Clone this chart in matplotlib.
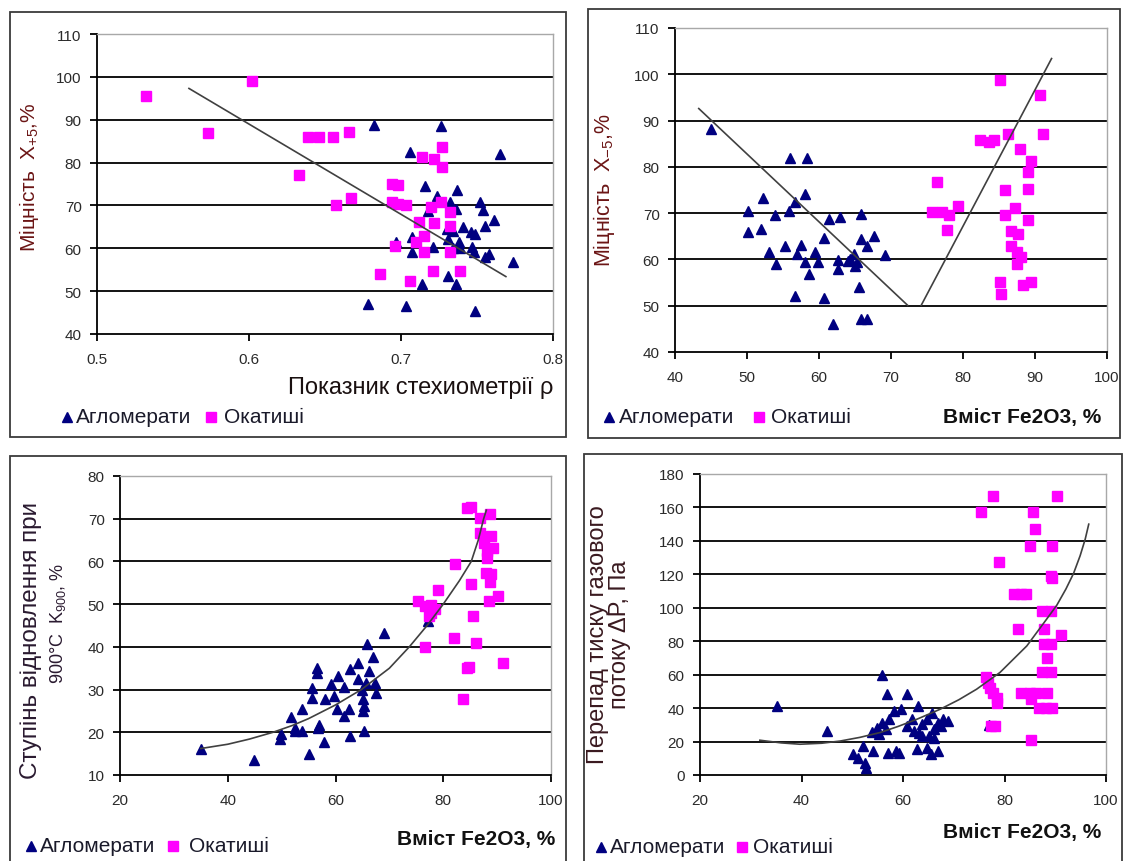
import matplotlib
matplotlib.use('Agg')
import matplotlib.pyplot as plt
from matplotlib.lines import Line2D
from matplotlib.patches import Rectangle

plt.rcParams['font.family'] = ['Liberation Sans', 'DejaVu Sans']
plt.rcParams['mathtext.fontset'] = 'custom'
plt.rcParams['mathtext.rm'] = 'Liberation Sans'
plt.rcParams['mathtext.it'] = 'Liberation Sans:italic'

NAVY = '#000080'
PINK = '#ff00ff'

###### panel 1: strength vs stoichiometry index
p1_agl_x = [0.682, 0.726, 0.706, 0.765, 0.716, 0.737, 0.724, 0.732, 0.736, 0.718, 0.752, 0.754, 0.761,
            0.755, 0.741, 0.730, 0.734, 0.746, 0.749, 0.731, 0.738, 0.739, 0.734, 0.721, 0.707, 0.707,
            0.697, 0.747, 0.748, 0.755, 0.758, 0.774, 0.731, 0.714, 0.736, 0.678, 0.703, 0.749]
p1_agl_y = [88.8, 88.6, 82.4, 82.0, 74.6, 73.7, 72.3, 70.7, 69.2, 68.8, 70.7, 69.0, 66.7,
            65.3, 64.9, 64.5, 64.1, 63.7, 63.3, 62.2, 61.4, 60.0, 60.0, 60.2, 62.6, 59.1,
            61.4, 60.2, 59.1, 57.9, 58.7, 56.7, 53.6, 51.7, 51.7, 47.0, 46.6, 45.4]
p1_oka_x = [0.532, 0.602, 0.573, 0.639, 0.646, 0.655, 0.666, 0.633, 0.657, 0.667, 0.694, 0.698,
            0.694, 0.698, 0.703, 0.696, 0.686, 0.706, 0.714, 0.722, 0.727, 0.727, 0.726, 0.712,
            0.722, 0.732, 0.732, 0.715, 0.710, 0.715, 0.732, 0.721, 0.739, 0.720]
p1_oka_y = [95.6, 99.1, 87.0, 86.0, 85.9, 86.0, 87.2, 77.0, 70.0, 71.7, 75.0, 74.8,
            70.7, 70.3, 70.0, 60.6, 54.0, 52.4, 81.2, 80.8, 83.6, 78.9, 70.7, 66.2,
            65.9, 68.4, 65.3, 62.9, 61.4, 59.1, 59.1, 54.8, 54.8, 69.6]
p1_trend_x = [0.5605, 0.769]
p1_trend_y = [97.3, 53.4]

###### panel 2: strength vs Fe2O3
p2_agl_x = [45.0, 56.0, 58.3, 52.2, 58.1, 56.6, 55.9, 50.1, 53.9, 51.9, 50.1, 61.4, 62.9, 65.8,
            60.7, 57.5, 55.3, 53.0, 54.0, 56.9, 59.4, 58.1, 59.8, 58.6, 62.7, 62.7, 64.3, 64.8,
            65.3, 65.8, 66.7, 67.7, 69.1, 65.5, 56.7, 60.7, 62.0, 65.9, 66.7, 64.0, 65.0]
p2_agl_y = [88.1, 81.9, 81.9, 73.3, 74.2, 72.3, 70.5, 70.5, 69.5, 66.6, 65.9, 68.8, 69.2, 69.9,
            64.6, 63.2, 63.0, 61.6, 59.1, 61.2, 61.5, 59.4, 59.4, 56.9, 57.9, 59.8, 60.2, 61.2,
            59.4, 64.5, 63.0, 65.1, 60.9, 54.0, 52.0, 51.7, 46.1, 47.1, 47.1, 59.6, 58.6]
p2_oka_x = [85.1, 90.7, 91.1, 86.3, 82.4, 83.6, 84.3, 87.9, 89.4, 89.0, 89.0, 85.8, 76.4, 79.3,
            75.7, 77.1, 78.1, 77.8, 87.2, 85.8, 89.0, 86.7, 87.7, 86.7, 87.5, 88.0, 87.5, 85.1,
            85.3, 88.4, 89.4]
p2_oka_y = [98.7, 95.5, 87.2, 87.2, 85.7, 85.4, 85.7, 83.8, 81.2, 78.9, 75.3, 75.1, 76.7, 71.5,
            70.2, 70.2, 69.5, 66.3, 71.1, 69.5, 68.6, 66.1, 65.4, 63.0, 61.7, 60.5, 59.1, 55.1,
            52.6, 54.4, 55.1]
p2_trend1_x = [43.3, 72.3]
p2_trend1_y = [92.6, 50.1]
p2_trend2_x = [74.2, 92.3]
p2_trend2_y = [50.1, 103.4]

###### panel 3: reduction degree vs Fe2O3
p3_agl_x = [35.0, 44.8, 55.1, 57.8, 49.7, 49.9, 52.4, 51.7, 53.8, 53.8, 52.5, 57.0, 56.7, 55.6,
            55.6, 56.5, 56.6, 58.1, 59.2, 59.8, 60.5, 61.5, 60.2, 61.5, 62.5, 62.7, 64.2, 64.2,
            64.9, 65.9, 66.9, 66.3, 65.6, 67.3, 67.6, 65.1, 65.2, 65.1, 65.2, 62.7, 69.0, 77.1]
p3_agl_y = [16.2, 13.5, 15.0, 17.7, 18.5, 19.7, 21.1, 23.6, 25.4, 20.4, 20.2, 21.8, 21.1, 28.1,
            30.4, 33.9, 35.1, 27.9, 31.2, 28.6, 33.2, 30.7, 25.4, 23.8, 25.4, 34.7, 36.3, 32.4,
            30.0, 40.6, 37.7, 34.3, 31.6, 31.6, 29.3, 27.7, 26.1, 25.0, 20.3, 19.1, 43.3, 46.0]
p3_oka_x = [85.2, 84.5, 86.8, 88.7, 86.8, 88.9, 87.5, 89.2, 88.2, 88.2, 82.1, 85.2, 87.9, 88.9,
            88.7, 90.2, 88.5, 79.1, 75.4, 76.7, 77.7, 77.7, 78.4, 77.4, 85.5, 76.7, 82.0, 86.0,
            84.5, 84.8, 91.1, 83.6]
p3_oka_y = [72.8, 72.6, 70.2, 71.0, 66.7, 65.9, 64.4, 63.2, 62.4, 60.9, 59.3, 54.6, 57.4, 57.0,
            55.2, 51.9, 50.7, 53.3, 50.7, 49.6, 49.9, 48.0, 48.8, 47.2, 47.2, 40.0, 42.0, 41.0,
            35.1, 35.3, 36.3, 27.9]
p3_trend_x = [35, 40, 44, 48.4, 52, 55, 60, 64.8, 70, 73.7, 77, 80, 83, 85.2, 86.5, 87.5, 88]
p3_trend_y = [16.2, 17.2, 18.4, 20.0, 21.6, 23.2, 26.4, 30.0, 35.0, 40.0, 45.0, 50.0, 55.5, 60.0,
              65.0, 70.0, 72.0]

###### panel 4: gas pressure drop vs Fe2O3
p4_agl_x = [35.2, 45.1, 55.9, 56.9, 60.8, 62.9, 58.3, 59.7, 57.3, 55.9, 54.9, 53.8, 55.2, 56.6,
            50.1, 51.1, 52.1, 54.1, 52.8, 52.5, 57.1, 58.6, 59.3, 62.7, 64.8, 65.5, 66.8, 60.7,
            61.7, 62.1, 63.1, 63.8, 64.8, 65.8, 66.2, 66.8, 67.5, 65.1, 66.2, 68.9, 67.9, 63.8, 77.0]
p4_agl_y = [41.3, 26.3, 59.9, 48.3, 48.3, 41.3, 38.3, 39.3, 33.3, 31.3, 28.3, 25.7, 24.3, 27.3,
            12.4, 10.4, 17.4, 14.4, 4.4, 7.4, 13.4, 14.4, 13.4, 15.4, 16.4, 12.4, 14.4, 29.3,
            33.3, 26.3, 25.3, 30.3, 33.3, 37.3, 27.3, 31.3, 29.3, 23.3, 22.3, 32.3, 33.3, 23.3, 29.7]
p4_oka_x = [75.4, 77.8, 90.4, 85.6, 86.1, 85.0, 89.3, 79.0, 89.1, 89.4, 81.9, 83.3, 84.3, 87.3,
            89.1, 82.7, 87.7, 91.1, 87.7, 89.1, 88.3, 87.4, 89.1, 76.3, 76.8, 77.1, 77.8, 78.5,
            78.5, 83.3, 85.0, 86.3, 88.4, 85.3, 86.7, 88.1, 89.4, 77.4, 78.1, 85.2]
p4_oka_y = [157.5, 167.0, 167.0, 157.5, 147.1, 137.1, 137.1, 127.1, 119.1, 118.1, 108.2, 108.2,
            108.2, 98.2, 98.2, 87.6, 87.2, 83.6, 78.2, 78.2, 69.8, 61.7, 61.7, 58.7, 55.3, 52.3,
            49.3, 46.3, 43.3, 49.3, 49.3, 49.3, 49.3, 45.3, 40.3, 40.3, 40.3, 29.3, 29.3, 21.0]
p4_trend_x = [31.8, 36, 39.7, 44, 47.6, 51.5, 55.5, 59, 62.7, 67.3, 71, 74.5, 79.1, 84.4, 88.3,
              90.3, 92.1, 93.6, 94.9, 95.9, 96.6]
p4_trend_y = [20.8, 19.2, 18.4, 19.0, 20.3, 22.5, 25.4, 29.0, 33.3, 39.3, 45.0, 51.3, 61.3, 77.2,
              93.2, 101.5, 111.2, 120.5, 131.1, 141.0, 150.0]

W, H = 1124, 862
fig = plt.figure(figsize=(W / 100, H / 100), dpi=100)


def fx(px):
    return px / W


def fy(py):
    return 1 - py / H


def frame(x0, y0, x1, y1):
    fig.add_artist(Rectangle((fx(x0), fy(y1)), (x1 - x0) / W, (y1 - y0) / H, transform=fig.transFigure,
                             fill=False, edgecolor='#3a3a3a', linewidth=1.3))


def panel(x0, y0, x1, y1, xlim, ylim, xticks, yticks, xlabels=None):
    ax = fig.add_axes([fx(x0), fy(y1), (x1 - x0) / W, (y1 - y0) / H])
    ax.set_xlim(*xlim)
    ax.set_ylim(*ylim)
    ax.set_xticks(xticks)
    if xlabels is not None:
        ax.set_xticklabels(xlabels)
    ax.set_yticks(yticks)
    for t in yticks[1:-1]:
        ax.axhline(t, color='black', linewidth=1.3, zorder=1)
    for s in ['top', 'right']:
        ax.spines[s].set_color('#a8a8a8')
        ax.spines[s].set_linewidth(1.0)
    for s in ['left', 'bottom']:
        ax.spines[s].set_color('black')
        ax.spines[s].set_linewidth(1.3)
    ax.tick_params(direction='out', length=5, width=1.3, labelsize=11, labelcolor='#2a2a2a')
    ax.tick_params(axis='y', pad=6)
    ax.tick_params(axis='x', pad=8)
    return ax


def points(ax, ax_x, ax_y, ok_x, ok_y):
    ax.plot(ax_x, ax_y, '^', color=NAVY, ms=7.5, mec=NAVY, zorder=3, clip_on=False)
    ax.plot(ok_x, ok_y, 's', color=PINK, ms=7, mec=PINK, zorder=3, clip_on=False)


def legend(y, tri_x, agl_x, sq_x, oka_x):
    fig.add_artist(Line2D([fx(tri_x)], [fy(y)], marker='^', color=NAVY, ms=7.5, transform=fig.transFigure))
    fig.text(fx(agl_x), fy(y), 'Агломерати', ha='left', va='center', fontsize=15, color='#1a1a2a')
    fig.add_artist(Line2D([fx(sq_x)], [fy(y)], marker='s', color=PINK, ms=7, transform=fig.transFigure))
    fig.text(fx(oka_x), fy(y), 'Окатиші', ha='left', va='center', fontsize=15, color='#1a1a2a')


######panel 1
frame(10, 13, 566, 438)
ax1 = panel(97, 35, 553, 335, (0.5, 0.8), (40, 110), [0.5, 0.6, 0.7, 0.8], range(40, 111, 10),
            ['0.5', '0.6', '0.7', '0.8'])
points(ax1, p1_agl_x, p1_agl_y, p1_oka_x, p1_oka_y)
ax1.plot(p1_trend_x, p1_trend_y, color='#404040', linewidth=1.2, zorder=4)
fig.text(fx(29), fy(177), 'Міцність  Х$_{+5}$,%', rotation=90, ha='center', va='center', fontsize=15,
         color='#6b1515')
fig.text(fx(553), fy(388), 'Показник стехиометрії ρ', ha='right', va='center', fontsize=17,
         color='#1a1010')
legend(418, 67, 76, 211, 224)

######panel 2
frame(588, 10, 1120, 439)
ax2 = panel(675, 29, 1107, 353, (40, 100), (40, 110), range(40, 101, 10), range(40, 111, 10))
points(ax2, p2_agl_x, p2_agl_y, p2_oka_x, p2_oka_y)
ax2.plot(p2_trend1_x, p2_trend1_y, color='#404040', linewidth=1.2, zorder=4)
ax2.plot(p2_trend2_x, p2_trend2_y, color='#404040', linewidth=1.2, zorder=4)
fig.text(fx(604), fy(190), 'Міцність  Х$_{-5}$,%', rotation=90, ha='center', va='center', fontsize=15.5,
         color='#6b1515')
fig.text(fx(1101), fy(418), 'Вміст Fe2O3, %', ha='right', va='center', fontsize=15, fontweight='bold',
         color='#111111')
legend(418, 609, 619, 759, 771)

######panel 3
frame(10, 457, 566, 870)
ax3 = panel(120, 477, 551, 776, (20, 100), (10, 80), range(20, 101, 20), range(10, 81, 10))
points(ax3, p3_agl_x, p3_agl_y, p3_oka_x, p3_oka_y)
ax3.plot(p3_trend_x, p3_trend_y, color='#404040', linewidth=1.2, zorder=4)
fig.text(fx(31), fy(641), 'Ступінь відновлення при', rotation=90, ha='center', va='center', fontsize=17.5,
         color='#2a1a30')
fig.text(fx(58), fy(623), '900°С  K$_{900}$, %', rotation=90, ha='center', va='center', fontsize=13,
         color='#2a1a30')
fig.text(fx(555), fy(840), 'Вміст Fe2O3, %', ha='right', va='center', fontsize=15, fontweight='bold',
         color='#111111')
legend(847, 31, 40, 173, 189)

######panel 4
frame(584, 455, 1122, 870)
ax4 = panel(700, 475, 1106, 776, (20, 100), (0, 180), range(20, 101, 20), range(0, 181, 20))
points(ax4, p4_agl_x, p4_agl_y, p4_oka_x, p4_oka_y)
ax4.plot(p4_trend_x, p4_trend_y, color='#404040', linewidth=1.2, zorder=4)
fig.text(fx(609), fy(635), 'Перепад тиску газового\nпотоку ΔP, Па', rotation=90, ha='center', va='center',
         fontsize=17, color='#3a1a20', linespacing=1.05)
fig.text(fx(1101), fy(833), 'Вміст Fe2O3, %', ha='right', va='center', fontsize=15, fontweight='bold',
         color='#111111')
legend(848, 601, 610, 742, 753)

fig.savefig('out.png', dpi=100)
